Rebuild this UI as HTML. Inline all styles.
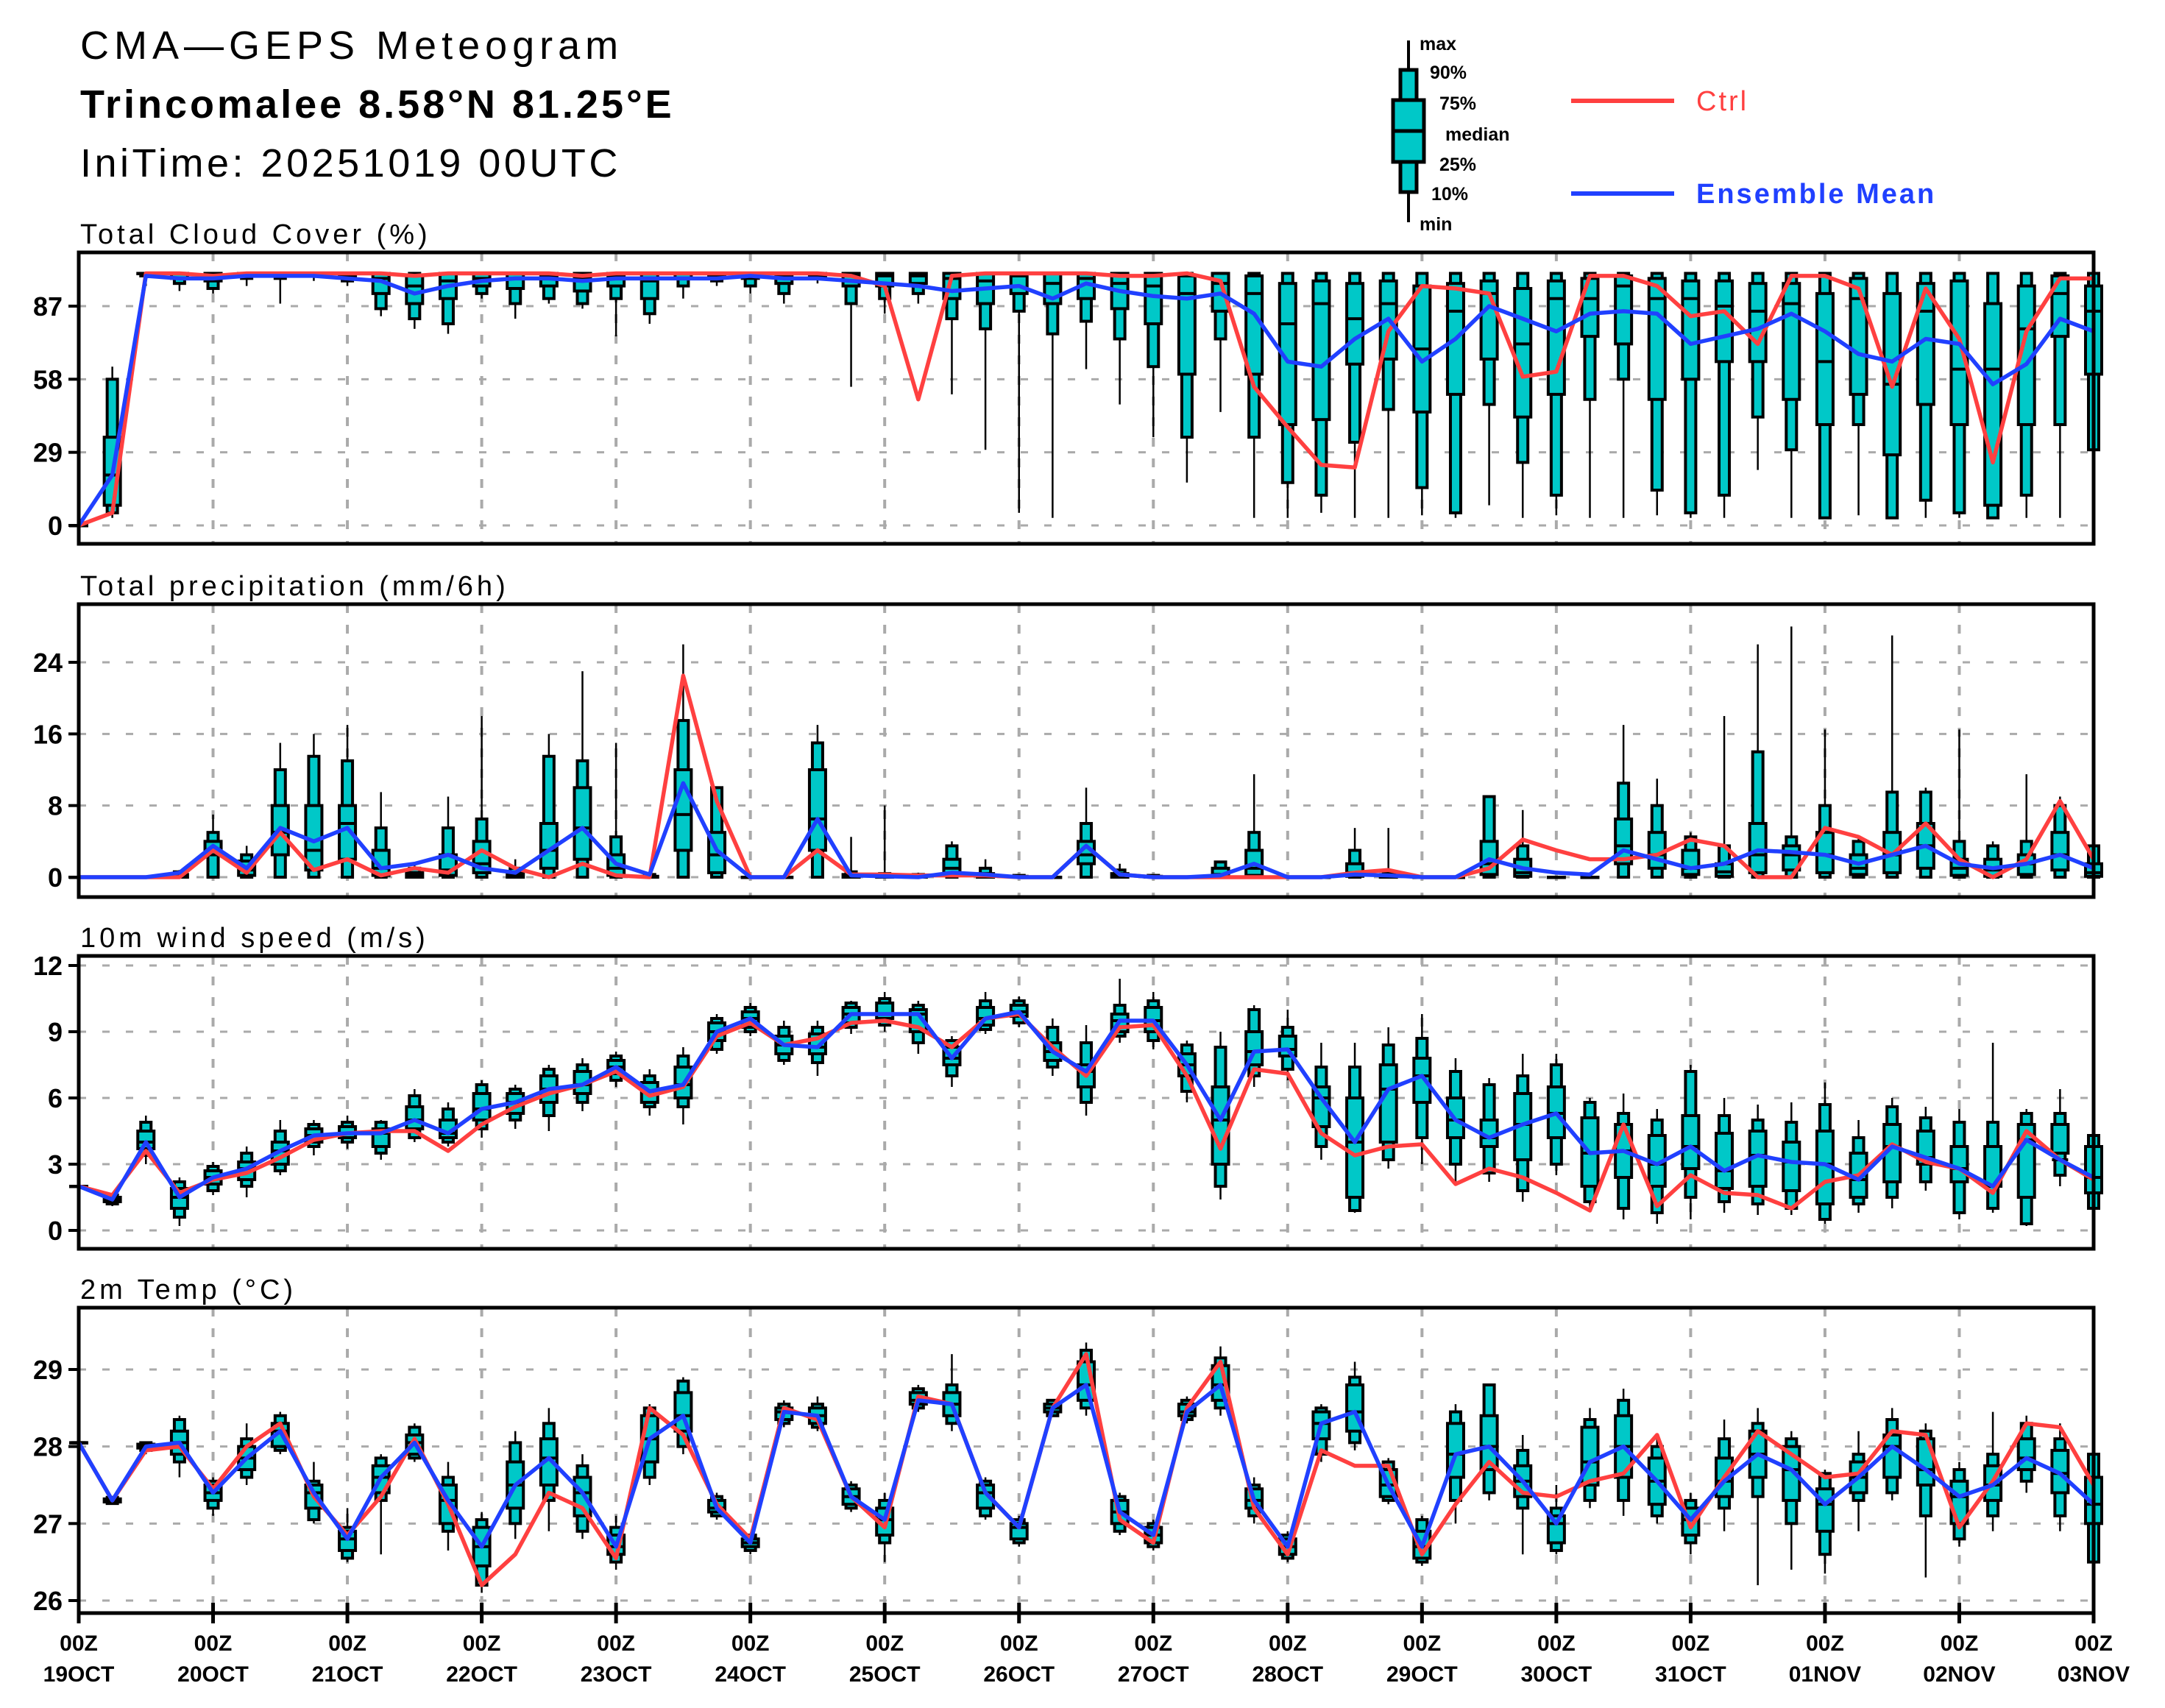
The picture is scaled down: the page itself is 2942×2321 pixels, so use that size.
<!DOCTYPE html>
<html><head><meta charset="utf-8"><style>
html,body{margin:0;padding:0;background:#fff;}
svg{display:block;font-family:"Liberation Sans",sans-serif;}
</style></head><body>
<svg id="chart" xmlns="http://www.w3.org/2000/svg" width="2942" height="2321" viewBox="0 0 2942 2321">
<rect x="0" y="0" width="2942" height="2321" fill="#fff"/>
<g font-size="54" fill="#000">
<text x="109" y="80" letter-spacing="7">CMA—GEPS Meteogram</text>
<text x="109" y="160" font-weight="bold" letter-spacing="4">Trincomalee 8.58°N 81.25°E</text>
<text x="109" y="240" letter-spacing="4.5">IniTime: 20251019 00UTC</text>
</g>
<g font-weight="bold" font-size="25">
<line x1="1914" y1="55" x2="1914" y2="302" stroke="#000" stroke-width="4"/>
<rect x="1903" y="95" width="22" height="166" fill="#00c8c8" stroke="#000" stroke-width="5"/>
<rect x="1893" y="136" width="42" height="84" fill="#00c8c8" stroke="#000" stroke-width="5"/>
<line x1="1893" y1="178" x2="1935" y2="178" stroke="#000" stroke-width="5"/>
<text x="1929" y="68">max</text>
<text x="1943" y="107">90%</text>
<text x="1956" y="149">75%</text>
<text x="1964" y="191">median</text>
<text x="1956" y="232">25%</text>
<text x="1945" y="272">10%</text>
<text x="1929" y="313">min</text>
<line x1="2135" y1="137" x2="2275" y2="137" stroke="#ff4040" stroke-width="6"/>
<text x="2305" y="150" fill="#ff4040" font-weight="normal" font-size="38" letter-spacing="3">Ctrl</text>
<line x1="2135" y1="263" x2="2275" y2="263" stroke="#2040ff" stroke-width="6"/>
<text x="2305" y="276" fill="#2040ff" font-size="38" letter-spacing="3">Ensemble Mean</text>
</g>
<g id="plots"></g>
</svg>
<script>
// ---------- Cloud cover (%) ----------
const cloudCtrl=[0,5,100,100,99,100,100,100,100,100,99,100,100,100,100,99,100,100,100,100,100,100,100,99,95,50,99,100,100,100,100,99,99,100,97,55,39,24,23,77,95,94,92,59,61,99,99,95,83,85,72,99,99,94,55,94,74,25,77,98,98];
const cloudMean=[0,20,99,98,98,99,99,99,98,97,92,95,97,98,98,97,98,98,98,98,99,98,98,97,96,95,93,94,95,90,96,93,91,90,92,84,65,63,74,82,65,74,87,82,77,84,85,84,72,75,78,84,77,68,65,74,72,56,64,82,77];
const cloudMin=[0,3,95,93,92,95,88,97,95,83,78,76,90,82,88,86,75,80,90,95,92,88,96,55,84,88,52,30,5,3,62,48,35,17,45,3,3,5,3,3,4,3,8,3,4,3,3,4,3,3,22,3,3,4,3,3,3,3,3,3,27];
const cloudP10=[0,5,99,96,94,98,98,99,97,86,82,80,92,88,90,88,90,84,95,97,95,92,98,88,90,92,82,78,85,76,81,74,63,35,74,35,17,12,33,46,15,5,48,25,12,50,58,14,5,12,43,30,3,40,3,10,5,3,12,40,30];
const cloudP25=[0,8,100,98,97,99,99,100,99,92,88,90,95,94,95,93,95,90,98,99,98,96,99,95,95,96,90,88,92,88,90,86,80,60,85,60,40,42,64,66,45,52,66,43,52,75,72,50,58,65,65,50,40,52,28,48,40,8,40,75,60];
const cloudMed=[0,20,100,100,99,100,100,100,100,98,95,97,98,98,99,98,99,97,100,100,100,99,100,99,99,99,98,97,99,96,98,96,95,92,96,92,80,88,82,88,70,85,92,72,90,90,95,90,90,87,85,88,65,90,56,85,62,62,78,92,85];
const cloudP75=[0,35,100,100,100,100,100,100,100,100,99,100,100,100,100,100,100,100,100,100,100,100,100,100,100,100,100,100,100,100,100,100,100,99,100,99,96,97,96,97,95,96,97,94,97,98,99,98,97,97,96,96,92,98,92,96,97,88,95,99,95];
const cloudP90=[0,58,100,100,100,100,100,100,100,100,100,100,100,100,100,100,100,100,100,100,100,100,100,100,100,100,100,100,100,100,100,100,100,100,100,100,100,100,100,100,100,100,100,100,100,100,100,100,100,100,100,100,100,100,100,100,100,100,100,100,100];
const cloudMax=[0,63,100,100,100,100,100,100,100,100,100,100,100,100,100,100,100,100,100,100,100,100,100,100,100,100,100,100,100,100,100,100,100,100,100,100,100,100,100,100,100,100,100,100,100,100,100,100,100,100,100,100,100,100,100,100,100,100,100,100,100];
const cloudTicks=[0,29,58,87];
// ---------- Precipitation (mm/6h) ----------
const precCtrl=[0,0,0,0,3,0.5,5,0.8,2,0.2,1,0.5,3,1,0,1.5,0.2,0,22.5,8.5,0,0,3,0.3,0.3,0.2,0.2,0.2,0,0,3.5,0.3,0,0,0,0,0,0,0.5,0.8,0,0,1,4.2,3,2,2,2.5,4.2,3.5,0,0,5.5,4.5,2.5,6,2,0,2,8.5,2];
const precMean=[0,0,0,0.5,3.5,1,5.5,4,5.5,1,1.5,2.5,1,0.5,3,5.5,1.5,0.3,10.5,3,0,0,6.5,0.2,0.1,0,0.5,0.3,0,0,3.5,0.3,0,0,0.2,1.5,0,0,0.3,0.2,0,0,2,1,0.5,0.3,3,2,1,1.5,3,2.8,2.5,1.5,2.5,3.5,1.5,1,1.5,2.5,1];
const precMin=[0,0,0,0,0,0,0,0,0,0,0,0,0,0,0,0,0,0,0,0,0,0,0,0,0,0,0,0,0,0,0,0,0,0,0,0,0,0,0,0,0,0,0,0,0,0,0,0,0,0,0,0,0,0,0,0,0,0,0,0,0];
const precP10=[0,0,0,0,0,0,0,0,0,0,0,0,0,0,0,0,0,0,0,0,0,0,0,0,0,0,0,0,0,0,0,0,0,0,0,0,0,0,0,0,0,0,0,0,0,0,0,0,0,0,0,0,0,0,0,0,0,0,0,0,0];
const precP25=[0,0,0,0,2.5,0.2,2.5,0.8,2,0.2,0,0.2,0.5,0,1,2,0.2,0,3,0.5,0,0,3,0,0,0,0.3,0,0,0,1.5,0,0,0,0.1,0.2,0,0,0.1,0,0,0,0.3,0.1,0,0,1.5,1,0.3,0.1,0.5,0.8,0.5,0.3,0.5,1,0.2,0.1,0.3,0.8,0.1];
const precMed=[0,0,0,0.1,3,0.8,5,3,6,1,0.2,0.8,1.5,0.2,3,5.5,1,0,7,2.5,0,0,6.5,0.1,0,0,1,0.1,0,0,2.5,0.1,0,0,0.3,1,0,0,0.5,0.1,0,0,1.5,0.5,0,0,3.5,2.5,1,0.6,2.5,2.5,2.5,1,2.5,3.5,1,0.8,1.5,2.5,0.5];
const precP75=[0,0,0,0.3,4,1.8,8,8,8,3,0.5,2.5,4,0.5,6,10,2.5,0.1,12,5,0,0,12,0.3,0.2,0.2,2,0.4,0.1,0,4,0.4,0.1,0,1,3,0,0,1.5,0.3,0,0,4,2,0,0,6.5,5,3,1.5,6,3.5,5,2.5,5,6,2,2,2.5,5,1.5];
const precP90=[0,0,0,0.6,5,2.5,12,13.5,13,5.5,1,5.5,6.5,1,13.5,13,4.5,0.3,17.5,10,0,0,15,0.6,0.4,0.3,3.5,1,0.2,0,6,0.8,0.2,0,1.7,5,0,0,3,0.5,0,0,9,3.5,0,0,10.5,8,4.5,3.5,14,4.5,8,4,9.5,9.5,4,3.5,4,8,3.5];
const precMax=[0,0,0,0.8,7,3.5,15,16,17,9.5,1.5,9,18,2,16,23,15,0.5,26,10,0,0,17,4.5,8,0.5,4,2,0.3,0,10,1.5,0.3,0,1.8,11.5,0,0,5.5,5.5,0,0,9,7.5,0,0,17,11,5,18,26,28,16.5,4.5,27,10,16.5,4,11.5,9,3.5];
const precTicks=[0,8,16,24];
// ---------- 10m wind speed (m/s) ----------
const windCtrl=[2.0,1.6,3.6,1.7,2.3,2.6,3.3,4.1,4.4,4.5,4.5,3.6,4.8,5.6,6.2,6.6,7.2,6.1,6.5,8.8,9.4,8.4,8.7,9.4,9.5,9.2,8.3,9.6,9.8,8.3,7.0,9.2,9.3,7.0,3.7,7.3,7.1,4.4,3.4,3.8,3.9,2.1,2.8,2.4,1.7,0.9,4.8,1.1,2.5,1.7,1.6,1.0,2.2,2.5,3.9,3.1,2.8,1.7,4.5,3.2,2.3];
const windMean=[2.0,1.4,4.0,1.5,2.4,2.8,3.6,4.3,4.4,4.4,5.0,4.4,5.5,5.8,6.4,6.6,7.4,6.3,6.6,9.0,9.6,8.4,8.3,9.8,9.8,9.8,7.8,9.6,9.9,8.1,7.2,9.5,9.5,7.5,5.0,8.1,8.2,6.0,4.0,6.4,7.0,5.0,4.2,4.8,5.3,3.5,3.6,3.0,3.8,2.7,3.4,3.1,3.0,2.3,3.8,3.3,2.8,2.0,4.1,3.2,2.4];
const windMin=[2.0,1.1,3.0,0.2,1.6,1.5,2.5,3.4,3.7,3.2,4.0,3.8,4.2,4.6,4.5,5.4,6.5,5.2,4.8,8.0,8.8,7.5,7.0,8.9,9.0,8.0,6.5,8.9,9.2,7.0,5.2,8.5,8.2,5.8,1.4,6.5,6.8,3.2,0.8,2.8,3.0,2.2,2.2,1.3,2.5,1.0,0.5,0.3,0.5,0.8,0.7,0.7,0.3,0.8,1.0,1.8,0.5,0.8,0.2,2.0,0.3];
const windP10=[2.0,1.2,3.4,0.6,1.8,2.0,2.7,3.8,4.0,3.5,4.2,4.0,4.6,5.0,5.2,5.8,6.8,5.6,5.6,8.2,9.0,7.7,7.6,9.2,9.3,8.5,7.0,9.1,9.4,7.4,5.8,8.8,8.6,6.3,2.0,7.0,7.3,3.8,0.9,3.2,4.2,3.0,2.6,1.8,3.0,1.3,1.0,0.8,1.5,1.3,1.2,1.0,0.5,1.2,1.5,2.2,0.8,1.0,0.3,2.5,1.0];
const windP25=[2.0,1.3,3.7,1.0,2.1,2.3,3.0,4.0,4.2,3.8,4.6,4.2,5.0,5.3,5.8,6.2,7.1,5.8,6.0,8.6,9.2,8.0,8.0,9.4,9.6,9.0,7.5,9.3,9.7,7.7,6.5,9.0,9.0,7.0,3.0,7.5,7.9,4.7,1.5,4.0,5.8,4.2,3.8,3.2,4.2,2.0,2.4,2.0,2.8,1.9,2.0,1.8,1.2,1.5,2.2,3.0,2.2,2.0,1.5,3.5,1.7];
const windMed=[2.0,1.4,4.0,1.5,2.4,2.8,3.6,4.3,4.4,4.4,5.0,4.4,5.5,5.8,6.4,6.6,7.4,6.3,6.6,9.0,9.6,8.4,8.3,9.8,9.8,9.8,7.8,9.6,9.9,8.1,7.2,9.5,9.5,7.5,5.0,8.1,8.2,6.0,4.0,6.4,7.0,5.0,4.2,4.8,5.3,3.5,3.6,3.0,3.8,2.7,3.4,3.1,3.0,2.3,3.8,3.3,2.8,2.0,4.1,3.2,2.4];
const windP75=[2.0,1.5,4.5,1.9,2.7,3.1,4.0,4.6,4.7,4.6,5.6,5.0,6.2,6.2,7.0,7.2,7.7,6.7,7.4,9.4,9.9,8.8,8.9,10.1,10.3,10.0,8.3,10.1,10.2,8.5,7.5,9.8,10.1,8.0,6.5,9.0,8.8,6.5,6.0,7.5,7.8,6.0,5.0,6.2,6.5,5.1,4.8,4.3,5.2,4.4,4.5,4.0,4.5,3.5,4.8,4.5,3.8,3.8,4.8,4.8,3.8];
const windP90=[2.0,1.6,4.9,2.2,2.9,3.5,4.5,4.8,4.9,4.9,6.1,5.5,6.6,6.4,7.3,7.5,7.9,7.0,7.9,9.6,10.1,9.2,9.2,10.3,10.5,10.2,8.6,10.4,10.4,9.2,8.5,10.2,10.4,8.4,8.3,10.0,9.2,7.4,7.4,8.4,8.7,7.2,6.6,7.0,7.5,5.8,5.3,5.0,7.2,5.2,5.0,4.9,5.7,4.2,5.6,5.1,4.9,4.9,5.3,5.3,4.3];
const windMax=[2.0,1.7,5.2,2.4,3.1,3.8,5.0,5.0,5.2,5.0,6.4,5.8,6.8,6.6,7.5,7.8,8.1,7.3,8.3,9.8,10.3,9.5,9.5,10.4,10.8,10.4,8.8,10.8,10.6,9.6,9.3,11.4,10.8,8.6,9.0,10.2,10.0,8.5,8.5,9.2,9.8,7.8,6.9,8.0,8.0,6.0,6.2,5.5,7.5,6.0,5.7,5.8,6.7,5.0,6.0,5.6,5.5,8.5,5.5,6.4,4.3];
const windTicks=[0,3,6,9,12];
// ---------- 2m temperature (°C) ----------
const tempCtrl=[28.05,27.3,27.95,28.0,27.45,28.0,28.3,27.35,26.85,27.35,28.1,27.25,26.2,26.6,27.4,27.2,26.55,28.5,28.15,27.25,26.8,28.5,28.35,27.35,26.95,28.65,28.55,27.4,26.95,28.5,29.2,27.05,26.75,28.5,29.1,27.2,26.6,27.95,27.75,27.75,26.6,27.25,27.8,27.4,27.35,27.55,27.65,28.15,26.95,27.6,28.2,27.9,27.6,27.65,28.2,28.15,26.95,27.55,28.3,28.25,27.5];
const tempMean=[28.05,27.3,28.0,28.05,27.4,27.85,28.2,27.4,26.8,27.6,28.05,27.3,26.7,27.5,27.85,27.4,26.7,28.1,28.4,27.2,26.75,28.45,28.4,27.35,27.05,28.6,28.55,27.4,26.95,28.5,28.8,27.15,26.85,28.45,28.8,27.3,26.7,28.3,28.45,27.5,26.7,27.9,28.0,27.55,27.0,27.8,28.0,27.55,27.05,27.55,27.9,27.7,27.25,27.6,28.0,27.7,27.35,27.5,27.85,27.65,27.25];
const tempMin=[28.05,27.25,27.9,27.6,27.1,27.5,27.9,27.0,26.5,26.6,27.8,26.65,26.1,26.8,26.9,26.8,26.4,27.5,27.9,27.05,26.6,28.25,28.2,27.15,26.5,28.45,28.2,27.05,26.7,28.4,28.4,26.85,26.65,28.3,28.4,27.0,26.5,27.8,27.95,27.25,26.45,27.0,27.3,26.6,26.6,27.2,27.1,27.0,26.6,26.9,26.2,26.4,26.35,26.9,27.3,26.3,26.7,26.9,27.4,26.9,26.5];
const tempP10=[28.05,27.26,27.95,27.8,27.2,27.6,27.95,27.05,26.55,27.3,27.85,26.9,26.2,27.0,27.3,26.9,26.5,27.6,28.0,27.1,26.65,28.3,28.25,27.2,26.75,28.5,28.3,27.1,26.75,28.4,28.5,26.9,26.7,28.35,28.5,27.1,26.55,27.9,28.05,27.3,26.5,27.3,27.4,27.2,26.65,27.3,27.3,27.1,26.75,27.2,27.35,27.0,26.6,27.3,27.4,27.1,26.8,27.1,27.55,27.1,26.5];
const tempP25=[28.05,27.28,27.98,27.9,27.3,27.7,28.0,27.2,26.65,27.4,27.9,27.0,26.45,27.2,27.5,27.1,26.6,27.8,28.2,27.15,26.7,28.35,28.3,27.25,26.85,28.55,28.4,27.2,26.8,28.45,28.6,27.0,26.75,28.4,28.6,27.2,26.6,28.1,28.2,27.35,26.55,27.6,27.7,27.35,26.75,27.5,27.6,27.25,26.85,27.35,27.6,27.3,26.9,27.4,27.6,27.5,27.0,27.3,27.7,27.4,27.0];
const tempMed=[28.05,27.3,28.0,28.05,27.4,27.85,28.2,27.4,26.8,27.6,28.05,27.3,26.7,27.5,27.85,27.4,26.7,28.1,28.4,27.2,26.75,28.45,28.4,27.35,27.05,28.6,28.55,27.4,26.95,28.5,28.8,27.15,26.85,28.45,28.8,27.3,26.7,28.3,28.45,27.5,26.7,27.9,28.0,27.55,27.0,27.8,28.0,27.55,27.05,27.55,27.9,27.7,27.25,27.6,28.0,27.7,27.35,27.5,27.85,27.65,27.25];
const tempP75=[28.05,27.32,28.03,28.2,27.5,28.0,28.3,27.5,26.9,27.75,28.15,27.5,26.95,27.8,28.1,27.6,26.85,28.4,28.7,27.3,26.8,28.5,28.5,27.45,27.2,28.7,28.7,27.5,27.0,28.55,29.1,27.3,26.95,28.55,29.05,27.45,26.8,28.45,28.8,27.7,26.9,28.3,28.4,27.75,27.1,28.25,28.4,27.85,27.2,27.85,28.2,28.0,27.45,27.8,28.15,28.1,27.55,27.75,28.1,27.95,27.6];
const tempP90=[28.05,27.34,28.05,28.35,27.55,28.1,28.4,27.55,26.95,27.85,28.25,27.6,27.05,28.05,28.3,27.75,26.95,28.5,28.85,27.35,26.85,28.55,28.55,27.5,27.3,28.75,28.8,27.55,27.05,28.6,29.25,27.35,27.0,28.6,29.15,27.5,26.85,28.5,28.9,27.8,27.05,28.45,28.8,27.95,27.2,28.35,28.6,28.0,27.3,28.1,28.3,28.1,27.65,27.9,28.35,28.2,27.7,27.9,28.3,28.1,27.9];
const tempMax=[28.05,27.35,28.05,28.4,27.6,28.3,28.45,27.8,27.2,27.9,28.3,27.8,27.15,28.2,28.5,27.9,27.1,28.55,28.9,27.4,26.85,28.6,28.65,27.55,27.4,28.8,29.2,27.6,27.1,28.6,29.35,27.4,27.05,28.65,29.3,27.6,26.9,28.55,29.1,27.85,27.1,28.55,28.8,28.15,27.5,28.5,28.75,28.1,27.4,28.35,28.5,28.2,27.7,28.2,28.5,28.3,27.8,28.45,28.4,28.3,27.9];
const tempTicks=[26,27,28,29];
// ---------- time axis ----------
const dayLabels=["19OCT","20OCT","21OCT","22OCT","23OCT","24OCT","25OCT","26OCT","27OCT","28OCT","29OCT","30OCT","31OCT","01NOV","02NOV","03NOV"];

const NS="http://www.w3.org/2000/svg";
const X0=107, X1=2845, NSTEP=60;
const xScale=i=>X0+(X1-X0)*i/NSTEP;
function mk(tag,attrs,parent){const e=document.createElementNS(NS,tag);for(const k in attrs)e.setAttribute(k,attrs[k]);parent.appendChild(e);return e;}
const plots=document.getElementById('plots');

const panels=[
 {key:'cloud',title:'Total Cloud Cover (%)',top:343,bottom:739,v0:0,y0:714,v1:87,y1:416,ticks:cloudTicks,ctrl:cloudCtrl,mean:cloudMean,bx:[cloudMin,cloudP10,cloudP25,cloudMed,cloudP75,cloudP90,cloudMax]},
 {key:'precip',title:'Total precipitation (mm/6h)',top:821,bottom:1219,v0:0,y0:1192,v1:24,y1:900,ticks:precTicks,ctrl:precCtrl,mean:precMean,bx:[precMin,precP10,precP25,precMed,precP75,precP90,precMax]},
 {key:'wind',title:'10m wind speed (m/s)',top:1299,bottom:1697,v0:0,y0:1672,v1:12,y1:1312,ticks:windTicks,ctrl:windCtrl,mean:windMean,bx:[windMin,windP10,windP25,windMed,windP75,windP90,windMax]},
 {key:'temp',title:'2m Temp (°C)',top:1777,bottom:2192,v0:26,y0:2175,v1:29,y1:1861,ticks:tempTicks,ctrl:tempCtrl,mean:tempMean,bx:[tempMin,tempP10,tempP25,tempMed,tempP75,tempP90,tempMax]}
];

panels.forEach((p,pi)=>{
  const yScale=v=>p.y0+(v-p.v0)*(p.y1-p.y0)/(p.v1-p.v0);
  const g=mk('g',{},plots);
  
  
  const t=mk('text',{x:109,y:p.top-12,'font-size':38,'letter-spacing':5},g);
  
  
  t.textContent=p.title;
  p.ticks.forEach(v=>{
    const y=yScale(v);
    const gl=mk('line',{x1:X0,x2:X1,y1:y,y2:y,stroke:'#aaa','stroke-width':3,'stroke-dasharray':'10 22'},g);
    
    
    const tk=mk('line',{x1:X0-14,x2:X0,y1:y,y2:y,stroke:'#000','stroke-width':4},g);
    
    
    const tl=mk('text',{x:X0-22,y:y+13,'font-size':36,'font-weight':'bold','text-anchor':'end'},g);
    
    
    tl.textContent=String(v);
  });
  for(let d=1;d<15;d++){
    const x=xScale(d*4);
    const vl=mk('line',{x1:x,x2:x,y1:p.top,y2:p.bottom,stroke:'#aaa','stroke-width':4,'stroke-dasharray':'12 16'},g);
    
    
  }
  const [mn,p10,p25,md,p75,p90,mx]=p.bx;
  for(let i=0;i<=NSTEP;i++){
    const x=xScale(i);
    const bg=mk('g',{},g);
    
    
    mk('line',{x1:x,x2:x,y1:yScale(mx[i]),y2:yScale(mn[i]),stroke:'#000','stroke-width':2.5},bg);
    const a=yScale(p90[i]),b=yScale(p10[i]);
    mk('rect',{x:x-7,y:a,width:14,height:Math.max(b-a,0.5),fill:'#00c8c8',stroke:'#000','stroke-width':4},bg);
    const c=yScale(p75[i]),d=yScale(p25[i]);
    mk('rect',{x:x-11,y:c,width:22,height:Math.max(d-c,0.5),fill:'#00c8c8',stroke:'#000','stroke-width':4},bg);
    mk('line',{x1:x-11,x2:x+11,y1:yScale(md[i]),y2:yScale(md[i]),stroke:'#000','stroke-width':4},bg);
  }
  const ptsC=p.ctrl.map((v,i)=>xScale(i)+','+yScale(v)).join(' ');
  const lc=mk('polyline',{points:ptsC,fill:'none',stroke:'#ff4040','stroke-width':5.5,'stroke-linejoin':'round'},g);
  
  
  const ptsM=p.mean.map((v,i)=>xScale(i)+','+yScale(v)).join(' ');
  const lm=mk('polyline',{points:ptsM,fill:'none',stroke:'#2040ff','stroke-width':5.5,'stroke-linejoin':'round'},g);
  
  
  const fr=mk('rect',{x:X0,y:p.top,width:X1-X0,height:p.bottom-p.top,fill:'none',stroke:'#000','stroke-width':5},g);
  
  
  if(pi===3){
    dayLabels.forEach((lab,d)=>{
      const x=xScale(d*4);
      const tk=mk('line',{x1:x,x2:x,y1:p.bottom-14,y2:p.bottom+14,stroke:'#000','stroke-width':5},g);
      
      
      const t1=mk('text',{x:x,y:2243,'font-size':30,'font-weight':'bold','text-anchor':'middle'},g);
      
      
      t1.textContent='00Z';
      const t2=mk('text',{x:x,y:2285,'font-size':30,'font-weight':'bold','text-anchor':'middle'},g);
      
      
      t2.textContent=lab;
    });
  }
});
</script>
</body></html>
